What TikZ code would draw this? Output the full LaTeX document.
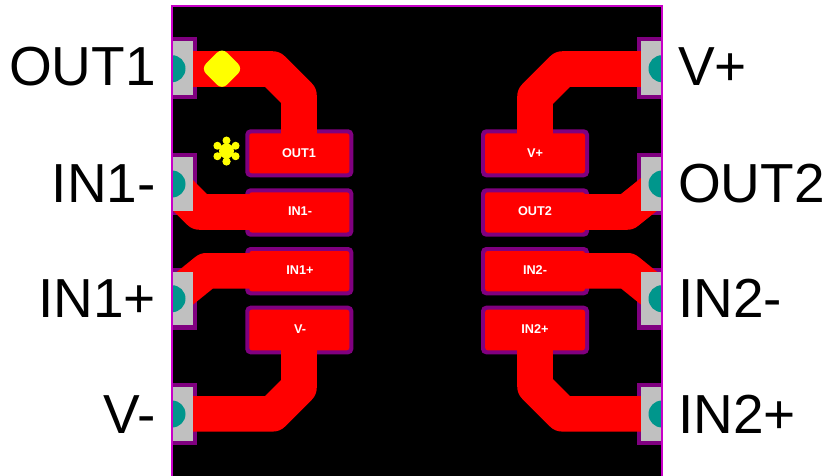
\documentclass[tikz,border=0pt]{standalone}
\usepackage{fontspec}
\setmainfont{Liberation Sans}
\definecolor{purp}{RGB}{128,0,128}
\definecolor{mag}{RGB}{200,0,200}
\definecolor{tealc}{RGB}{0,150,140}
\definecolor{greyc}{RGB}{192,192,192}
\definecolor{yel}{RGB}{255,255,0}
\tikzset{
  big/.style={inner sep=0pt,font=\fontsize{55}{55}\selectfont,text=black},
  pin/.style={inner sep=0pt,font=\fontsize{12.7}{13}\selectfont\bfseries,text=white},
  trace/.style={draw=red,line width=35.6pt,line join=round,line cap=butt},
  padout/.style={fill=purp,rounded corners=5pt},
  padin/.style={fill=red,rounded corners=2.5pt},
  edgep/.style={fill=purp},
  edgeg/.style={fill=greyc},
  hole/.style={fill=tealc},
}
\begin{document}
\begin{tikzpicture}[x=1pt,y=-1pt]
\useasboundingbox (0,0) rectangle (828,476);
\fill[white] (0,0) rectangle (828,476);
\fill[black] (172,6) rectangle (662,476);
% edge pad outlines
\foreach \yt/\yb in {37/99,152.7/214.7,267.7/330,382.7/445.3}{
  \fill[edgep] (172,\yt) rectangle (197,\yb);
  \fill[edgep] (636.7,\yt) rectangle (662,\yb);
}
% central pad outlines
\foreach \yt/\yb in {129.3/177.3,188.3/236.7,247/295.3,305.7/354.3}{
  \fill[padout] (245.3,\yt) rectangle (353.3,\yb);
  \fill[padout] (481,\yt) rectangle (589,\yb);
}
\foreach \yt/\yb in {133.3/173.3,192.3/232.5,251/291.3,309.7/350.3}{
  \fill[padin] (249.3,\yt) rectangle (349.3,\yb);
  \fill[padin] (485.2,\yt) rectangle (585,\yb);
}
% traces
\begin{scope}
\clip (172,6) rectangle (662,476);
\draw[trace] (180,69) -- (272.4,69) -- (299,95.6) -- (299,140);
\draw[trace] (172,184.4) -- (199.6,212) -- (300,212);
\draw[trace] (172,298.7) -- (206.5,270.8) -- (300,270.8);
\draw[trace] (180,413.8) -- (272.6,413.8) -- (299,387.4) -- (299,340);
\draw[trace] (655,69) -- (562.6,69) -- (535,96.6) -- (535,140);
\draw[trace] (662,184) -- (627,212) -- (530,212);
\draw[trace] (662,298.7) -- (627.5,270.8) -- (530,270.8);
\draw[trace] (655,413.8) -- (562.4,413.8) -- (535,386.4) -- (535,340);
\end{scope}
% edge pads
\foreach \yt/\yb/\yc in {41/95.3/68.7,156.7/210.7/184,271.7/325.3/298.7,386.7/440.7/414}{
  \fill[edgeg] (172,\yt) rectangle (192.7,\yb);
  \fill[edgeg] (641.3,\yt) rectangle (662,\yb);
  \begin{scope}
    \clip (172,\yt) rectangle (192.7,\yb);
    \fill[hole] (172,\yc) circle (13.5);
  \end{scope}
  \begin{scope}
    \clip (641.3,\yt) rectangle (662,\yb);
    \fill[hole] (662,\yc) circle (13.5);
  \end{scope}
}
\draw[mag,line width=2pt] (172,476) -- (172,6) -- (662,6) -- (662,476);
% markers
\fill[yel,rounded corners=7pt] (201,68.7) -- (222,47.7) -- (243,68.7) -- (222,89.7) -- cycle;
\foreach \a in {90,150,...,450}{
  \fill[yel] (226.5,151) ++(\a:10.5) circle (4);
}
\fill[yel] (226.5,151) circle (7.5);
% labels
\node[pin] (p1) at (299,153.5) {OUT1};
\node[pin] (p2) at (300,211.5) {IN1-};
\node[pin] (p3) at (300,270.5) {IN1+};
\node[pin] (p4) at (300,329.5) {V-};
\node[pin] (p5) at (535,153.5) {V+};
\node[pin] (p6) at (535,211.5) {OUT2};
\node[pin] (p7) at (535,270.5) {IN2-};
\node[pin] (p8) at (535,329.5) {IN2+};
\node[big,anchor=base east] (l1) at (156,86) {OUT1};
\node[big,anchor=base east] (l2) at (156,203) {IN1-};
\node[big,anchor=base east] (l3) at (156,317) {IN1+};
\node[big,anchor=base east] (l4) at (156,433) {V-};
\node[big,anchor=base west] (r1) at (678,86) {V+};
\node[big,anchor=base west] (r2) at (678,203) {OUT2};
\node[big,anchor=base west] (r3) at (678,317) {IN2-};
\node[big,anchor=base west] (r4) at (678,433) {IN2+};
\end{tikzpicture}
\end{document}
